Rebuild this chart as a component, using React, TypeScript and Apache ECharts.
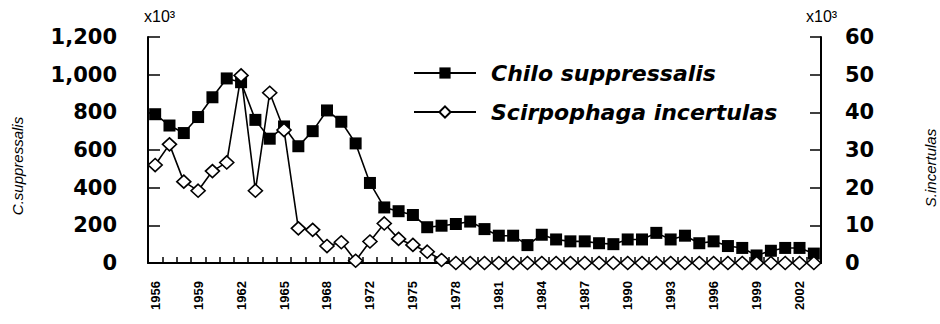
import React, { useEffect, useRef } from "react";
import * as echarts from "echarts";

const years: string[] = [
  "1956", "1957", "1958", "1959", "1960", "1961", "1962", "1963", "1964", "1965",
  "1966", "1967", "1968", "1970", "1971", "1972", "1973", "1974", "1975", "1976",
  "1977", "1978", "1979", "1980", "1981", "1982", "1983", "1984", "1985", "1986",
  "1987", "1988", "1989", "1990", "1991", "1992", "1993", "1994", "1995", "1996",
  "1997", "1998", "1999", "2000", "2001", "2002", "2003",
];

// Chilo suppressalis (x10^3), left axis
const chiloValues: number[] = [
  790, 730, 690, 775, 880, 980, 960, 760, 660, 725,
  620, 700, 810, 750, 635, 425, 295, 275, 255, 190,
  198, 207, 220, 180, 145, 145, 95, 150, 125, 115,
  115, 105, 100, 125, 125, 160, 125, 145, 105, 115,
  90, 80, 40, 65, 80, 80, 50,
];

// Scirpophaga incertulas (x10^3), right axis
const scirpoValues: number[] = [
  26, 31.5, 21.6, 19.2, 24.4, 26.7, 49.8, 19.2, 45.2, 35.3,
  9.2, 8.8, 4.5, 5.5, 0.6, 5.7, 10.5, 6.4, 4.8, 3,
  0.8, 0, 0, 0, 0, 0, 0, 0, 0, 0,
  0, 0, 0, 0, 0, 0, 0, 0, 0, 0,
  0, 0, 0, 0, 0, 0, 0,
];

const leftTicks = { min: 0, max: 1200, interval: 200 };
const rightTicks = { min: 0, max: 60, interval: 10 };

const seriesNames = ["Chilo suppressalis", "Scirpophaga incertulas"];
const leftTitle = "C.suppressalis";
const rightTitle = "S.incertulas";
const unitLabel = "x10³";

const FONT = "'Liberation Sans', Arial, sans-serif";
const WIDE = "'DejaVu Sans', sans-serif";

export default function App() {
  const ref = useRef<HTMLDivElement>(null);
  useEffect(() => {
    if (!ref.current) return;
    const chart = echarts.init(ref.current, null, { renderer: "svg" });
    chart.setOption({
      animation: false,
      backgroundColor: "#ffffff",
      grid: { left: 148, right: 119, top: 37, bottom: 61 },
      legend: {
        orient: "vertical",
        left: 413,
        top: 60,
        padding: 0,
        itemWidth: 62,
        itemHeight: 14,
        itemGap: 13,
        data: seriesNames,
        textStyle: {
          fontFamily: WIDE,
          fontStyle: "italic",
          fontWeight: "bold",
          fontSize: 22,
          color: "#000",
          lineHeight: 26,
          padding: [0, 0, 0, 10],
        },
      },
      xAxis: {
        type: "category",
        data: years,
        boundaryGap: true,
        axisLine: { show: true, lineStyle: { color: "#000", width: 2 } },
        axisTick: { show: true, inside: true, length: 6, interval: 0, lineStyle: { color: "#000", width: 1.5 } },
        axisLabel: {
          interval: 2,
          rotate: 90,
          margin: 18,
          fontFamily: FONT,
          fontWeight: "bold",
          fontSize: 13,
          color: "#000",
        },
        splitLine: { show: false },
      },
      yAxis: [
        {
          type: "value",
          ...leftTicks,
          position: "left",
          axisLine: { show: true, lineStyle: { color: "#000", width: 2 } },
          axisTick: { show: true, inside: true, length: 12, lineStyle: { color: "#000", width: 1.5 } },
          axisLabel: {
            margin: 31,
            fontFamily: WIDE,
            fontWeight: "bold",
            fontSize: 21,
            color: "#000",
            formatter: (v: number) => v.toLocaleString("en-US"),
          },
          splitLine: { show: false },
        },
        {
          type: "value",
          ...rightTicks,
          position: "right",
          axisLine: { show: true, lineStyle: { color: "#000", width: 2 } },
          axisTick: { show: true, inside: true, length: 11, lineStyle: { color: "#000", width: 1.5 } },
          axisLabel: {
            margin: 24,
            fontFamily: WIDE,
            fontWeight: "bold",
            fontSize: 21,
            color: "#000",
          },
          splitLine: { show: false },
        },
      ],
      series: [
        {
          name: seriesNames[0],
          type: "line",
          yAxisIndex: 0,
          data: chiloValues,
          showAllSymbol: true,
          symbol: "rect",
          symbolSize: 12,
          lineStyle: { color: "#000", width: 1.6 },
          itemStyle: { color: "#000", borderColor: "#000", borderWidth: 0 },
        },
        {
          name: seriesNames[1],
          type: "line",
          yAxisIndex: 1,
          data: scirpoValues,
          showAllSymbol: true,
          symbol: "diamond",
          symbolSize: [14, 13],
          lineStyle: { color: "#000", width: 1.6 },
          itemStyle: { color: "#fff", borderColor: "#000", borderWidth: 1.6 },
        },
      ],
      graphic: [
        {
          type: "text",
          left: 144,
          top: 8,
          style: { text: unitLabel, fontFamily: FONT, fontSize: 16, fill: "#000" },
        },
        {
          type: "text",
          left: 806,
          top: 8,
          style: { text: unitLabel, fontFamily: FONT, fontSize: 16, fill: "#000" },
        },
        {
          type: "text",
          x: 17,
          y: 166,
          rotation: Math.PI / 2,
          style: {
            text: leftTitle,
            fontFamily: FONT,
            fontStyle: "italic",
            fontSize: 15,
            fill: "#000",
            align: "center",
            verticalAlign: "middle",
          },
        },
        {
          type: "text",
          x: 930,
          y: 168,
          rotation: Math.PI / 2,
          style: {
            text: rightTitle,
            fontFamily: FONT,
            fontStyle: "italic",
            fontSize: 15,
            fill: "#000",
            align: "center",
            verticalAlign: "middle",
          },
        },
      ],
    });
    return () => chart.dispose();
  }, []);
  return (
    <div
      ref={ref}
      style={{ position: "absolute", left: 0, top: 0, width: 940, height: 324 }}
    />
  );
}
